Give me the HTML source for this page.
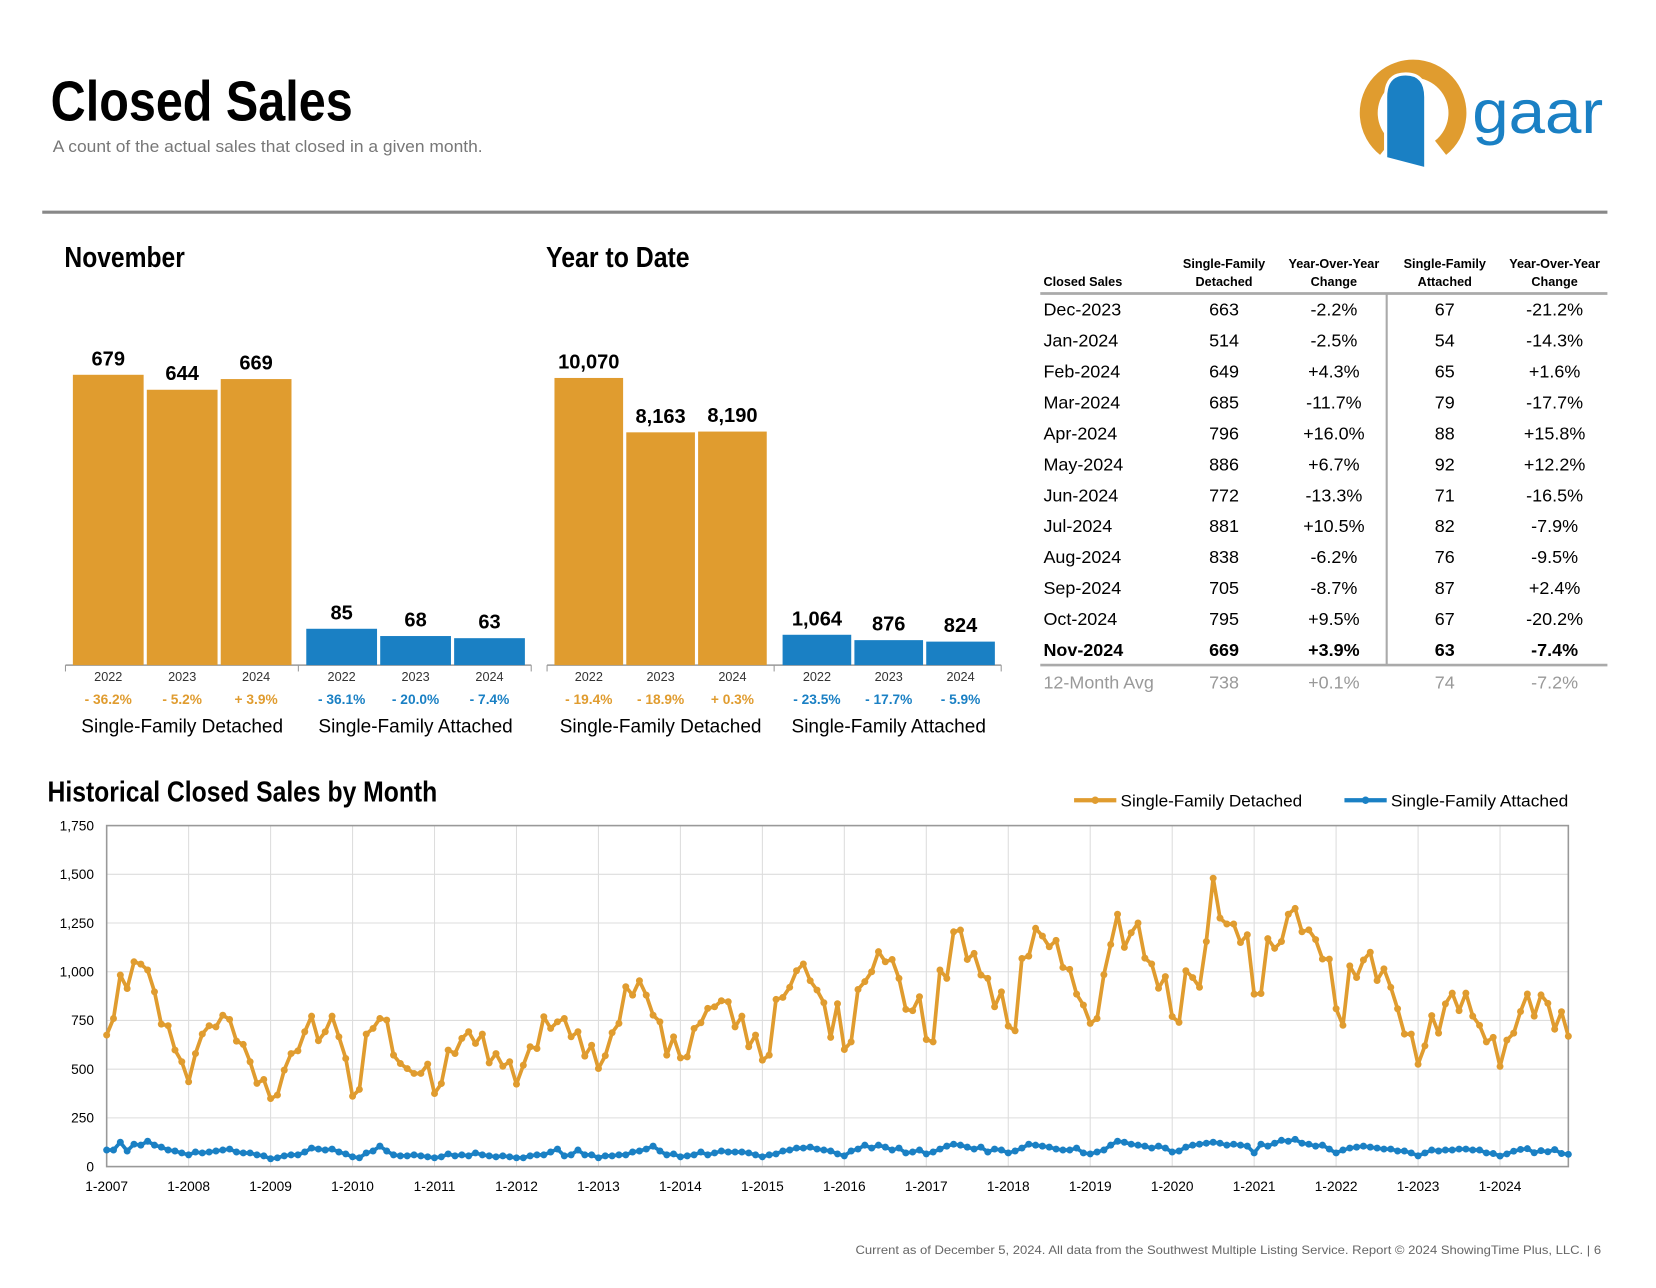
<!DOCTYPE html>
<html><head><meta charset="utf-8"><style>
html,body{margin:0;padding:0;background:#fff;}
svg{display:block;font-family:"Liberation Sans",sans-serif;}
.cond{font-family:"Liberation Sans Narrow","Liberation Sans",sans-serif;font-weight:bold;}
</style></head><body>
<svg id="page" width="1656" height="1288" viewBox="0 0 1568 1220" preserveAspectRatio="none" xmlns="http://www.w3.org/2000/svg">
<text class="cond" x="48" y="114" font-size="54" fill="#000" textLength="286" lengthAdjust="spacingAndGlyphs">Closed Sales</text>
<text x="50" y="144" font-size="15.5" fill="#777" textLength="407" lengthAdjust="spacingAndGlyphs">A count of the actual sales that closed in a given month.</text>
<g>
<path d="M1312 140 A42 42 0 1 1 1364 140" fill="none" stroke="#e09c2f" stroke-width="17"/>
<path d="M1312 150 L1312 92 Q1312 70 1331 70 Q1350 70 1350 92 L1350 160 Z" fill="#1a80c4" stroke="#fff" stroke-width="3"/>
<text x="1394" y="126" font-size="58" fill="#1a80c4" textLength="124" lengthAdjust="spacingAndGlyphs">gaar</text>
</g>
<line x1="40" y1="201" x2="1522" y2="201" stroke="#888" stroke-width="3"/>
<text class="cond" x="61" y="253" font-size="27" textLength="114" lengthAdjust="spacingAndGlyphs">November</text>
<text class="cond" x="517" y="253" font-size="27" textLength="136" lengthAdjust="spacingAndGlyphs">Year to Date</text>
<g id="bars"></g>
<g id="table"></g>
<text class="cond" x="45" y="759" font-size="27" textLength="369" lengthAdjust="spacingAndGlyphs">Historical Closed Sales by Month</text>
<g>
<g><line x1="1017" y1="758" x2="1057" y2="758" stroke="#e09c2f" stroke-width="4"/><circle cx="1037" cy="758" r="3.5" fill="#e09c2f"/><text x="1061" y="764" font-size="16" textLength="172" lengthAdjust="spacingAndGlyphs">Single-Family Detached</text></g>
<g><line x1="1273" y1="758" x2="1313" y2="758" stroke="#1a80c4" stroke-width="4"/><circle cx="1293" cy="758" r="3.5" fill="#1a80c4"/><text x="1317" y="764" font-size="16" textLength="168" lengthAdjust="spacingAndGlyphs">Single-Family Attached</text></g>
</g>
<g id="hist"></g>
<text x="1516" y="1188" font-size="11.5" fill="#666" text-anchor="end" textLength="706" lengthAdjust="spacingAndGlyphs">Current as of December 5, 2024. All data from the Southwest Multiple Listing Service. Report © 2024 ShowingTime Plus, LLC.  |  6</text>
</svg>
<script>
const barYears = ["2022","2023","2024"];
const novDetached = [679, 644, 669];
const novAttached = [85, 68, 63];
const novDetPct = ["- 36.2%","- 5.2%","+ 3.9%"];
const novAttPct = ["- 36.1%","- 20.0%","- 7.4%"];
const ytdDetached = [10070, 8163, 8190];
const ytdAttached = [1064, 876, 824];
const ytdDetPct = ["- 19.4%","- 18.9%","+ 0.3%"];
const ytdAttPct = ["- 23.5%","- 17.7%","- 5.9%"];

const tblMonths = ["Dec-2023","Jan-2024","Feb-2024","Mar-2024","Apr-2024","May-2024","Jun-2024","Jul-2024","Aug-2024","Sep-2024","Oct-2024","Nov-2024"];
const tblDet = ["663","514","649","685","796","886","772","881","838","705","795","669"];
const tblDetChg = ["-2.2%","-2.5%","+4.3%","-11.7%","+16.0%","+6.7%","-13.3%","+10.5%","-6.2%","-8.7%","+9.5%","+3.9%"];
const tblAtt = ["67","54","65","79","88","92","71","82","76","87","67","63"];
const tblAttChg = ["-21.2%","-14.3%","+1.6%","-17.7%","+15.8%","+12.2%","-16.5%","-7.9%","-9.5%","+2.4%","-20.2%","-7.4%"];
const tblAvg = ["12-Month Avg","738","+0.1%","74","-7.2%"];

const histDetached = [
675,760,983,914,1051,1039,1009,897,731,723,598,538,
435,580,680,723,717,777,755,644,627,538,427,447,
349,367,495,580,594,692,772,646,692,772,666,555,
361,396,680,709,760,752,572,529,503,478,478,526,
375,426,598,580,658,692,632,680,532,580,515,538,
423,520,615,606,769,709,743,760,666,692,567,623,
503,569,687,735,923,880,954,880,777,743,572,666,
558,563,709,738,812,820,851,846,717,772,615,675,
546,572,858,868,920,1005,1040,954,906,841,663,836,
601,640,909,949,1000,1103,1051,1063,966,807,800,872,
652,640,1009,966,1205,1214,1063,1094,983,966,820,897,
721,697,1068,1080,1223,1183,1128,1161,1022,1012,885,829,
735,760,985,1140,1295,1125,1200,1250,1070,1040,915,975,
770,740,1005,970,920,1155,1480,1275,1245,1245,1150,1190,
885,888,1170,1120,1155,1295,1325,1205,1215,1165,1065,1065,
810,725,1030,970,1060,1100,955,1015,920,810,680,680,
525,620,775,685,835,890,800,890,772,725,640,663,
514,649,685,796,886,772,881,838,705,795,669];
const histAttached = [
85,85,125,80,115,110,130,110,100,85,80,70,
60,75,70,75,80,85,90,75,70,70,60,55,
40,45,55,60,60,75,95,90,85,90,75,65,
50,45,70,80,105,80,60,55,55,60,55,50,
45,50,65,55,60,55,70,60,55,50,55,50,
45,45,55,60,60,75,90,55,60,85,60,60,
45,55,55,60,60,75,80,90,105,80,60,65,
50,55,60,75,60,70,80,75,75,75,70,60,
50,60,65,80,85,95,95,100,90,85,80,65,
55,80,90,110,95,110,100,85,95,70,75,85,
65,75,90,105,115,110,100,90,100,75,90,85,
70,80,95,115,110,105,100,90,85,85,95,70,
65,75,85,110,130,125,115,110,105,95,105,95,
75,80,100,110,115,120,125,120,110,115,110,105,
70,115,105,120,135,130,140,120,115,105,110,90,
70,85,95,100,105,100,95,90,90,80,80,70,
55,70,85,80,85,85,90,90,85,85,70,67,
54,65,79,88,92,71,82,76,87,67,63];
const yTicks = [0,250,500,750,1000,1250,1500,1750];
const yTickLabels = ["0","250","500","750","1,000","1,250","1,500","1,750"];
const xTickLabels = ["1-2007","1-2008","1-2009","1-2010","1-2011","1-2012","1-2013","1-2014","1-2015","1-2016","1-2017","1-2018","1-2019","1-2020","1-2021","1-2022","1-2023","1-2024"];

const NS="http://www.w3.org/2000/svg";
function mk(tag, attrs, parent, txt){const e=document.createElementNS(NS,tag);for(const k in attrs)e.setAttribute(k,attrs[k]);if(txt!==undefined)e.textContent=txt;parent.appendChild(e);return e;}
const OR="#e09c2f", BL="#1a80c4";
function fmt(v){return v.toLocaleString("en-US");}

// ---------- bar panels ----------
const barsG=document.getElementById("bars");
function panel(x0, scale, det, att, detPct, attPct, prefix, bw, groupOff, axL, axR){
  const base=630, gap=3;
  const ax=mk("line",{x1:axL,y1:base,x2:axR,y2:base,stroke:"#999","stroke-width":1.5},barsG);
  
  
  [axL,(axL+axR)/2,axR].forEach(tx=>{
    const tk=mk("line",{x1:tx,y1:base,x2:tx,y2:base+6,stroke:"#999"},barsG);
    
    
  });
  const groups=[[det,detPct,OR,"Single-Family Detached"],[att,attPct,BL,"Single-Family Attached"]];
  groups.forEach((g,gi)=>{
    const gx=x0+gi*groupOff;
    g[0].forEach((v,i)=>{
      const x=gx+i*(bw+gap), h=v*scale;
      const r=mk("rect",{x:x,y:base-h,width:bw,height:h,fill:g[2]},barsG);
      
      
      const lb=mk("text",{x:x+bw/2,y:base-h-9,"font-size":19,"font-weight":"bold","text-anchor":"middle"},barsG,fmt(v));
      
      
      const yl=mk("text",{x:x+bw/2,y:base+15,"font-size":12,fill:"#333","text-anchor":"middle"},barsG,barYears[i]);
      
      
      const pc=mk("text",{x:x+bw/2,y:base+37,"font-size":13,"font-weight":"bold",fill:g[2],"text-anchor":"middle"},barsG,g[1][i]);
      
      
    });
    const gl=mk("text",{x:gx+1.5*(bw+gap)-gap/2,y:base+64,"font-size":18,"text-anchor":"middle"},barsG,g[3]);
    
    
  });
}
panel(69, 275/679, novDetached, novAttached, novDetPct, novAttPct, "november", 67, 221, 62, 503);
panel(525, 272/10070, ytdDetached, ytdAttached, ytdDetPct, ytdAttPct, "ytd", 65, 216, 518, 948);

// ---------- table ----------
const tG=document.getElementById("table");
const cols=[988,1159,1263,1368,1472];
const hdr=[["","Closed Sales"],["Single-Family","Detached"],["Year-Over-Year","Change"],["Single-Family","Attached"],["Year-Over-Year","Change"]];
hdr.forEach((h,i)=>{
  const anc=i===0?"start":"middle";
  if(h[0]){const a=mk("text",{x:cols[i],y:254,"font-size":12,"font-weight":"bold","text-anchor":anc},tG,h[0]);}
  const b=mk("text",{x:cols[i],y:271,"font-size":12,"font-weight":"bold","text-anchor":anc},tG,h[1]);
  
  
});
mk("line",{x1:985,y1:278,x2:1522,y2:278,stroke:"#aaa","stroke-width":2.5},tG);
mk("line",{x1:1313,y1:278,x2:1313,y2:630,stroke:"#aaa","stroke-width":2},tG);
mk("line",{x1:985,y1:630,x2:1522,y2:630,stroke:"#aaa","stroke-width":2.5},tG);
tblMonths.forEach((m,r)=>{
  const y=299+r*29.3, last=r===tblMonths.length-1;
  const vals=[m,tblDet[r],tblDetChg[r],tblAtt[r],tblAttChg[r]];
  const row=mk("g",{},tG);
  
  
  vals.forEach((v,i)=>{mk("text",{x:cols[i],y:y,"font-size":17,"font-weight":last?"bold":"normal","text-anchor":i===0?"start":"middle"},row,v);});
});
const avgRow=mk("g",{},tG);


tblAvg.forEach((v,i)=>{mk("text",{x:cols[i],y:652,"font-size":17,fill:"#999","text-anchor":i===0?"start":"middle"},avgRow,v);});

// ---------- historical line chart ----------
const hG=document.getElementById("hist");
const L=101,R=1485,T=782,B=1105,YMAX=1750;
const nPts=histDetached.length;
const xs=i=>L+i*(R-L)/(nPts-1);
const ys=v=>B-v/YMAX*(B-T);
yTicks.forEach((t,i)=>{
  const g=mk("line",{x1:L,y1:ys(t),x2:R,y2:ys(t),stroke:"#ddd","stroke-width":1},hG);
  
  
  const lb=mk("text",{x:89,y:ys(t)+4.5,"font-size":13,"text-anchor":"end"},hG,yTickLabels[i]);
  
  
});
xTickLabels.forEach((t,i)=>{
  const x=xs(i*12);
  const g=mk("line",{x1:x,y1:T,x2:x,y2:B,stroke:"#ddd","stroke-width":1},hG);
  
  
  const lb=mk("text",{x:x,y:1128,"font-size":13,"text-anchor":"middle"},hG,t);
  
  
});
const frame=mk("rect",{x:L,y:T,width:R-L,height:B-T,fill:"none",stroke:"#999","stroke-width":1.5},hG);


function series(arr,col,name){
  const g=mk("g",{},hG);
  
  
  const pts=arr.map((v,i)=>xs(i).toFixed(1)+","+ys(v).toFixed(1)).join(" ");
  mk("polyline",{points:pts,fill:"none",stroke:col,"stroke-width":3.5,"stroke-linejoin":"round"},g);
  arr.forEach((v,i)=>{
    const c=mk("circle",{cx:xs(i),cy:ys(v),r:3.3,fill:col},g);
    
    
  });
}
series(histDetached,OR,"detached-series");
series(histAttached,BL,"attached-series");
</script>
</body></html>
